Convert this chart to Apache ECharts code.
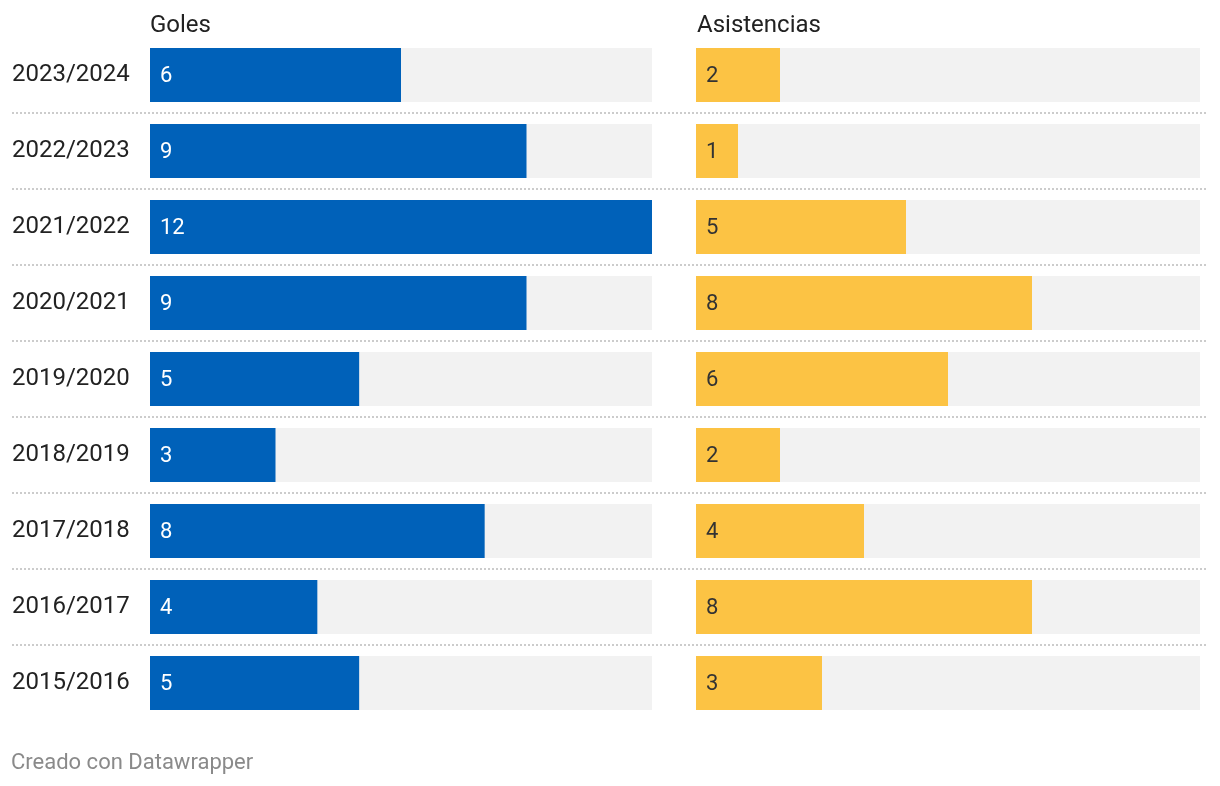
<!DOCTYPE html>
<html>
<head>
<meta charset="utf-8">
<script src="https://cdn.jsdelivr.net/npm/echarts@6/dist/echarts.min.js"></script>
<style>html,body{margin:0;padding:0;background:#fff}#c{width:1220px;height:786px}</style>
</head>
<body>
<div id="c"></div>
<script>
const seasons = ['2023/2024','2022/2023','2021/2022','2020/2021','2019/2020','2018/2019','2017/2018','2016/2017','2015/2016'];
const goles = [6, 9, 12, 9, 5, 3, 8, 4, 5];
const asistencias = [2, 1, 5, 8, 6, 2, 4, 8, 3];
const panelTitles = ['Goles', 'Asistencias'];
const scaleMax = 12;
const footer = 'Creado con Datawrapper';

const FONT = 'Roboto';
const chart = echarts.init(document.getElementById('c'), null, {renderer: 'canvas'});
const bgVals = seasons.map(() => scaleMax);

function panel(idx, data, color, labelColor) {
  return [
    {
      type: 'bar', xAxisIndex: idx, yAxisIndex: idx, data: bgVals, barWidth: 54,
      itemStyle: {color: '#f2f2f2'}, silent: true, barGap: '-100%', z: 1
    },
    {
      type: 'bar', xAxisIndex: idx, yAxisIndex: idx, data: data, barWidth: 54,
      itemStyle: {color: color}, z: 2,
      label: {show: true, position: 'insideLeft', distance: 10, color: labelColor,
              fontFamily: FONT, fontSize: 22, offset: [0, 1]}
    }
  ];
}

chart.setOption({
  animation: false,
  title: [
    {text: panelTitles[0], left: 150, top: 14, padding: 0,
     textStyle: {fontFamily: FONT, fontSize: 24, fontWeight: 'normal', color: '#222'}},
    {text: panelTitles[1], left: 697, top: 14, padding: 0,
     textStyle: {fontFamily: FONT, fontSize: 24, fontWeight: 'normal', color: '#222'}},
    {text: footer, left: 11, top: 752, padding: 0,
     textStyle: {fontFamily: FONT, fontSize: 22, fontWeight: 'normal', color: '#8a8a8a'}}
  ],
  grid: [
    {left: 150, width: 502, top: 37, height: 684},
    {left: 696, width: 504, top: 37, height: 684},
    {left: 12, width: 1196, top: 113, height: 532}
  ],
  xAxis: [
    {type: 'value', gridIndex: 0, min: 0, max: scaleMax, show: false},
    {type: 'value', gridIndex: 1, min: 0, max: scaleMax, show: false},
    {type: 'value', gridIndex: 2, min: 0, max: 1, show: false}
  ],
  yAxis: [
    {type: 'category', gridIndex: 0, data: seasons, inverse: true,
     axisLine: {show: false}, axisTick: {show: false}, splitLine: {show: false},
     axisLabel: {align: 'left', margin: 138, fontFamily: FONT, fontSize: 24, color: '#222'}},
    {type: 'category', gridIndex: 1, data: seasons, inverse: true, show: false},
    {type: 'value', gridIndex: 2, min: 0, max: seasons.length - 2, interval: 1,
     axisLine: {show: false}, axisTick: {show: false}, axisLabel: {show: false},
     splitLine: {show: true, lineStyle: {color: '#cccccc', width: 2, type: [2, 2]}}}
  ],
  series: [
    ...panel(0, goles, '#0061b9', '#ffffff'),
    ...panel(1, asistencias, '#fcc344', '#333333')
  ]
});
</script>
</body>
</html>
